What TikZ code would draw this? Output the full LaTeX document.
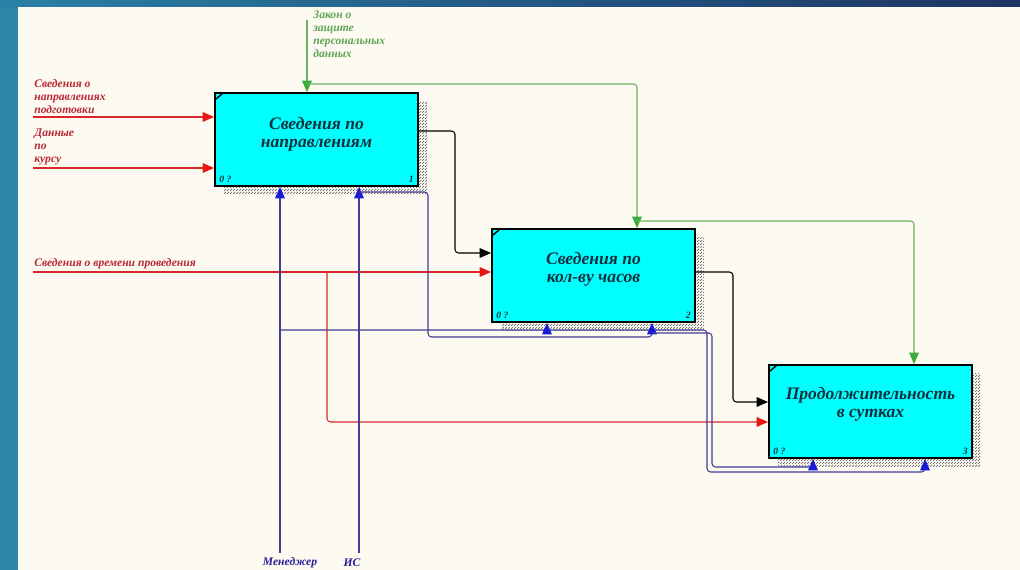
\documentclass[tikz,border=0pt]{standalone}
\usepackage{fontspec}
\setmainfont{Liberation Serif}
\usepackage{xcolor}
\usepackage{tikz}
\usetikzlibrary{arrows.meta, positioning, patterns, patterns.meta, shadows, calc}

\definecolor{paper}{RGB}{253,250,241}
\definecolor{bandA}{RGB}{42,128,166}
\definecolor{bandB}{RGB}{30,52,100}
\definecolor{strip}{RGB}{44,134,168}
\definecolor{boxfill}{RGB}{0,255,255}
\definecolor{ink}{RGB}{18,48,62}
\definecolor{redline}{RGB}{214,40,40}
\definecolor{redtip}{RGB}{235,20,20}
\definecolor{redtxt}{RGB}{185,40,55}
\definecolor{grnline}{RGB}{105,180,95}
\definecolor{grntip}{RGB}{60,170,60}
\definecolor{grntxt}{RGB}{95,165,85}
\definecolor{bluline}{RGB}{70,60,150}
\definecolor{blutip}{RGB}{25,25,215}
\definecolor{blutxt}{RGB}{40,30,150}

\tikzdeclarepattern{
  name=checker, type=uncolored,
  bounding box={(0,0) and (1.4pt,1.4pt)},
  tile size={(1.4pt,1.4pt)},
  code={\fill (0,0) rectangle (0.7pt,0.7pt); \fill (0.7pt,0.7pt) rectangle (1.4pt,1.4pt);}
}

\begin{document}
\begin{tikzpicture}[x=0.02cm, y=-0.02cm,
  func/.style={draw=black, line width=1.1pt, fill=boxfill, minimum width=4.06cm, minimum height=1.86cm, inner sep=0pt,
    general shadow={shadow xshift=5pt, shadow yshift=-4.8pt, pattern=checker, pattern color=black!55}},
  ttl/.style={font=\fontsize{10}{10.5}\selectfont\bfseries\itshape, text=ink, align=center, inner sep=0pt},
  num/.style={font=\fontsize{5.5}{6}\selectfont\bfseries\itshape, text=ink, inner sep=0pt},
  lbl/.style={font=\fontsize{6.6}{7.4}\selectfont\bfseries\itshape, align=left, inner sep=0pt},
  wire/.style={line width=0.6pt, rounded corners=2pt},
  redarr/.style={wire, draw=redline, -{Triangle[length=6.5pt, width=5.5pt, color=redtip]}},
  blkarr/.style={wire, draw=black, -{Triangle[length=6.5pt, width=5.5pt]}},
  grnarr/.style={wire, draw=grnline, -{Triangle[length=6.5pt, width=5.5pt, color=grntip]}},
  bluarr/.style={wire, draw=bluline, -{Triangle[length=6.5pt, width=5.5pt, color=blutip]}}
]
\useasboundingbox (0,0) rectangle (1020,570);
% slide background
\fill[paper] (0,0) rectangle (1020,570);
\shade[left color=bandA, right color=bandB] (0,0) rectangle (1020,7);
\fill[strip] (0,7) rectangle (18,570);

% function blocks
\node[func] (b1) at (316.5,139.5) {};
\node[func] (b2) at (593.5,275.5) {};
\node[func] (b3) at (870.5,411.5) {};
\node[ttl] (t1) at ([shift={(0,-5)}]b1.center) {Сведения по\\направлениям};
\node[ttl] (t2) at ([shift={(0,-6)}]b2.center) {Сведения по\\кол-ву часов};
\node[ttl] (t3) at ([shift={(0,-7)}]b3.center) {Продолжительность\\в сутках};
\foreach \b/\n in {b1/1, b2/2, b3/3} {
  \draw[line width=0.8pt] ([shift={(2,7)}]\b.north west) -- ([shift={(9,1)}]\b.north west);
  \node[num, anchor=south west] (\b z) at ([shift={(5,-4)}]\b.south west) {0 ?};
  \node[num, anchor=south east] (\b n) at ([shift={(-5,-4)}]\b.south east) {\n};
}

% inputs
\coordinate (r1) at (33,117);
\coordinate (r2) at (33,168);
\coordinate (r3) at (33,272);
\coordinate (rb) at (327,272);
\draw[redarr] (r1) -- (r1 -| b1.west);
\draw[redarr] (r2) -- (r2 -| b1.west);
\draw[redarr] (r3) -- (r3 -| b2.west);
\draw[redarr] (rb) |- ([shift={(0,10.5)}]b3.west);
\node[lbl, text=redtxt, anchor=south west] (lr1) at ([shift={(1,-3)}]r1) {Сведения о\\направлениях\\подготовки};
\node[lbl, text=redtxt, anchor=south west] (lr2) at ([shift={(1,-3)}]r2) {Данные\\по\\курсу};
\node[lbl, text=redtxt, anchor=south west] (lr3) at ([shift={(1,-3)}]r3) {Сведения о времени проведения};

% outputs to next block
\draw[blkarr] ([shift={(0,-8.5)}]b1.east) -| (455,200) |- ([shift={(0,-22.5)}]b2.west);
\draw[blkarr] ([shift={(0,-3.5)}]b2.east) -| (733,330) |- ([shift={(0,-9.5)}]b3.west);

% controls
\coordinate (g0) at (307,20);
\coordinate (gb) at (307,84);
\coordinate (gc) at (637,221);
\draw[grnarr] (g0) -- (g0 |- b1.north);
\draw[grnarr] (gb) -| ([shift={(43.5,0)}]b2.north);
\draw[grnarr] (gc) -| ([shift={(43.5,0)}]b3.north);
\node[lbl, text=grntxt, anchor=north west] (lg) at (313,10) {Закон о\\защите\\персональных\\данных};

% mechanisms
\coordinate (m0) at (280,553);
\coordinate (s0) at (359,553);
\coordinate (mb) at (280,330);
\coordinate (sb) at (359,192);
\draw[bluarr] (m0) -- (m0 |- b1.south);
\draw[bluarr] (s0) -- (s0 |- b1.south);
\draw[bluarr] (mb) -- (707,330) -- (707,472) -| ([shift={(54.5,0)}]b3.south);
\draw[bluarr] (547,330) -- ([shift={(-46.5,0)}]b2.south);
\draw[bluarr] (sb) -- (428,192) -- (428,337) -| ([shift={(58.5,0)}]b2.south);
\draw[bluarr] (652,333) -- (712,333) -- (712,467) -| ([shift={(-57.5,0)}]b3.south);
\node[lbl, text=blutxt] (lm) at (290,563) {Менеджер};
\node[lbl, text=blutxt] (ls) at (352,563) {ИС};
\end{tikzpicture}
\end{document}
